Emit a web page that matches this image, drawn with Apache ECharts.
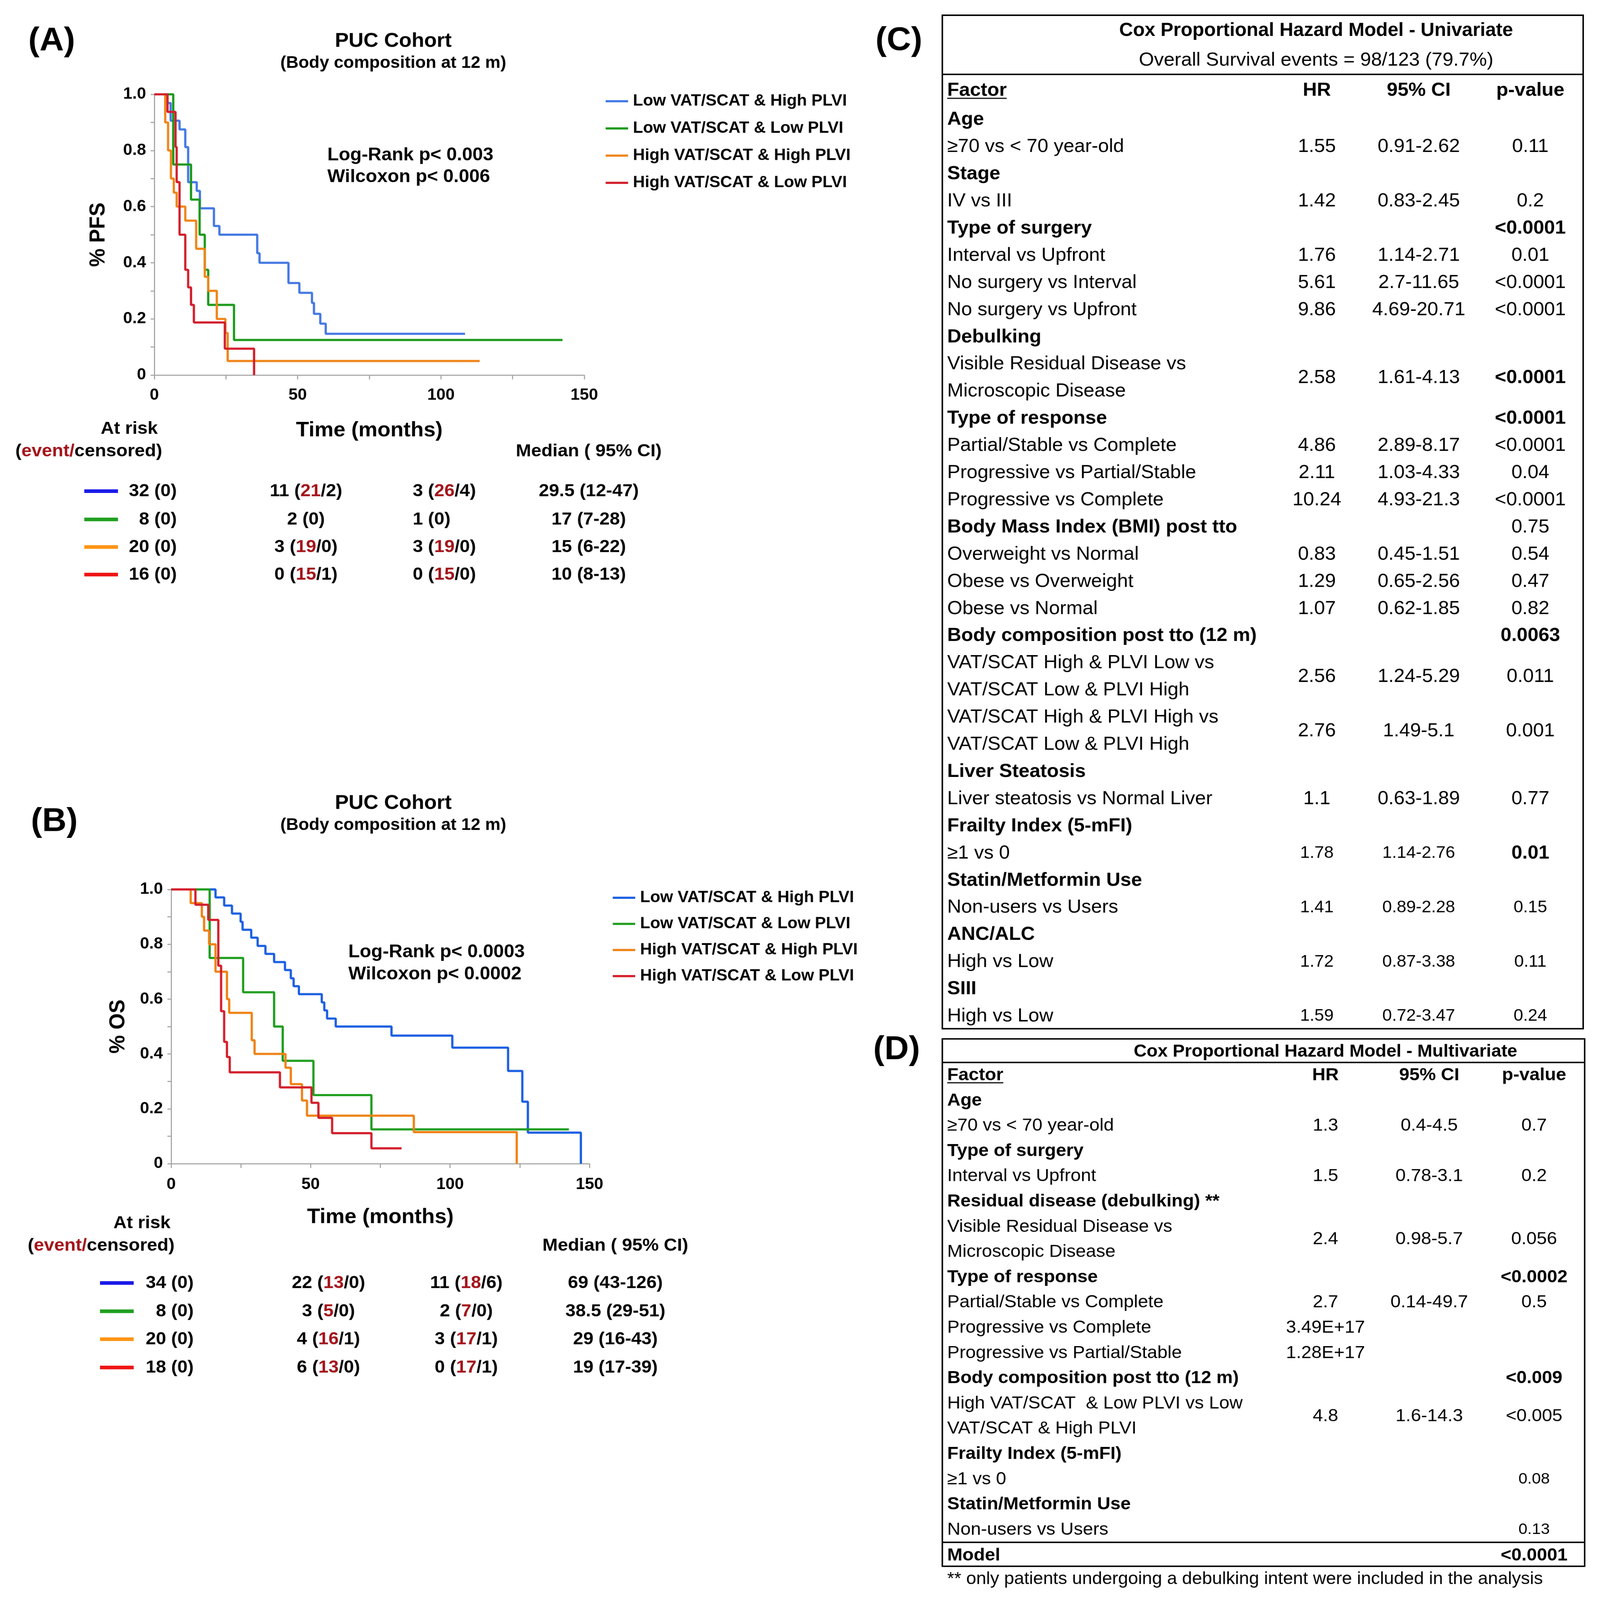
<!DOCTYPE html>
<html>
<head>
<meta charset="utf-8">
<script src="https://cdn.jsdelivr.net/npm/echarts@6/dist/echarts.min.js"></script>
<style>
  html, body { margin: 0; padding: 0; background: #fff; overflow: hidden; }
  #chart { width: 4272px; height: 4411px; transform-origin: 0 0; }
</style>
</head>
<body>
<div id="chart"></div>
<script>
// ---- Kaplan-Meier curves (time in months, survival fraction) ----
const groupNames = ['Low VAT/SCAT & High PLVI', 'Low VAT/SCAT & Low PLVI', 'High VAT/SCAT & High PLVI', 'High VAT/SCAT & Low PLVI'];

// (A) PFS
const pfsLowHighT = [0, 4.6, 5.7, 8.8, 10.8, 11.8, 14.8, 15.9, 20.8, 22.7, 35.9, 36.7, 46.8, 50.6, 55.0, 55.7, 57.9, 59.8, 108.4];
const pfsLowHighS = [1, 0.969, 0.906, 0.875, 0.812, 0.687, 0.656, 0.594, 0.531, 0.5, 0.434, 0.4, 0.328, 0.293, 0.257, 0.218, 0.183, 0.147, 0.147];
const pfsLowLowT = [0, 6.6, 12.8, 15.8, 17.6, 18.8, 27.8, 142.4];
const pfsLowLowS = [1, 0.75, 0.625, 0.5, 0.375, 0.25, 0.125, 0.125];
const pfsHighHighT = [0, 3.8, 4.8, 5.8, 6.8, 7.8, 10.8, 14.6, 17.6, 18.8, 21.8, 24.8, 25.6, 113.5];
const pfsHighHighS = [1, 0.9, 0.8, 0.7, 0.65, 0.6, 0.55, 0.45, 0.35, 0.3, 0.2, 0.15, 0.05, 0.05];
const pfsHighLowT = [0, 4.6, 7.4, 7.8, 8.8, 10.8, 11.8, 12.8, 13.8, 24.6, 34.8];
const pfsHighLowS = [1, 0.9375, 0.8125, 0.6875, 0.5, 0.375, 0.3125, 0.25, 0.1875, 0.094, 0];

// (B) OS
const osLowHighT = [0, 15.9, 19.0, 21.8, 24.9, 25.6, 28.7, 31.0, 33.8, 36.9, 40.8, 42.9, 43.9, 45.8, 54.0, 54.9, 55.9, 59.0, 79.0, 100.8, 120.8, 125.9, 127.9, 146.9];
const osLowHighS = [1, 0.971, 0.941, 0.912, 0.882, 0.853, 0.824, 0.794, 0.765, 0.735, 0.706, 0.676, 0.647, 0.618, 0.588, 0.559, 0.529, 0.5, 0.467, 0.423, 0.338, 0.226, 0.113, 0];
const osLowLowT = [0, 13.8, 25.8, 36.9, 40.0, 51.0, 71.8, 142.6];
const osLowLowS = [1, 0.75, 0.625, 0.5, 0.375, 0.25, 0.125, 0.125];
const osHighHighT = [0, 7.0, 11.0, 11.8, 13.6, 15.9, 20.0, 20.8, 28.9, 29.9, 41.0, 42.9, 46.9, 48.7, 87.0, 123.9];
const osHighHighS = [1, 0.95, 0.9, 0.85, 0.8, 0.7, 0.6, 0.55, 0.45, 0.4, 0.35, 0.29, 0.23, 0.175, 0.115, 0];
const osHighLowT = [0, 8.7, 13.3, 16.9, 17.9, 19.0, 20.0, 21.0, 39.0, 50.3, 52.8, 57.7, 71.8, 82.6];
const osHighLowS = [1, 0.944, 0.889, 0.722, 0.556, 0.444, 0.389, 0.333, 0.278, 0.222, 0.167, 0.111, 0.056, 0.056];

// ---- at-risk tables ----
const pfsRisk0 = ['32 (0)', '8 (0)', '20 (0)', '16 (0)'];
const pfsRisk50 = ['11 (21/2)', '2 (0)', '3 (19/0)', '0 (15/1)'];
const pfsRisk100 = ['3 (26/4)', '1 (0)', '3 (19/0)', '0 (15/0)'];
const pfsMedian = ['29.5 (12-47)', '17 (7-28)', '15 (6-22)', '10 (8-13)'];
const osRisk0 = ['34 (0)', '8 (0)', '20 (0)', '18 (0)'];
const osRisk50 = ['22 (13/0)', '3 (5/0)', '4 (16/1)', '6 (13/0)'];
const osRisk100 = ['11 (18/6)', '2 (7/0)', '3 (17/1)', '0 (17/1)'];
const osMedian = ['69 (43-126)', '38.5 (29-51)', '29 (16-43)', '19 (17-39)'];

// ---- (C) univariate Cox model ----
const univFactor = ['Age', '≥70 vs < 70 year-old', 'Stage', 'IV vs III', 'Type of surgery', 'Interval vs Upfront',
  'No surgery vs Interval', 'No surgery vs Upfront', 'Debulking', 'Visible Residual Disease vs\nMicroscopic Disease',
  'Type of response', 'Partial/Stable vs Complete', 'Progressive vs Partial/Stable', 'Progressive vs Complete',
  'Body Mass Index (BMI) post tto', 'Overweight vs Normal', 'Obese vs Overweight', 'Obese vs Normal',
  'Body composition post tto (12 m)', 'VAT/SCAT High & PLVI Low vs\nVAT/SCAT Low & PLVI High',
  'VAT/SCAT High & PLVI High vs\nVAT/SCAT Low & PLVI High', 'Liver Steatosis', 'Liver steatosis vs Normal Liver',
  'Frailty Index (5-mFI)', '≥1 vs 0', 'Statin/Metformin Use', 'Non-users vs Users', 'ANC/ALC', 'High vs Low', 'SIII', 'High vs Low'];
const univHR = ['', '1.55', '', '1.42', '', '1.76', '5.61', '9.86', '', '2.58', '', '4.86', '2.11', '10.24', '', '0.83', '1.29', '1.07',
  '', '2.56', '2.76', '', '1.1', '', '1.78', '', '1.41', '', '1.72', '', '1.59'];
const univCI = ['', '0.91-2.62', '', '0.83-2.45', '', '1.14-2.71', '2.7-11.65', '4.69-20.71', '', '1.61-4.13', '', '2.89-8.17',
  '1.03-4.33', '4.93-21.3', '', '0.45-1.51', '0.65-2.56', '0.62-1.85', '', '1.24-5.29', '1.49-5.1', '', '0.63-1.89', '',
  '1.14-2.76', '', '0.89-2.28', '', '0.87-3.38', '', '0.72-3.47'];
const univP = ['', '0.11', '', '0.2', '<0.0001', '0.01', '<0.0001', '<0.0001', '', '<0.0001', '<0.0001', '<0.0001', '0.04', '<0.0001',
  '0.75', '0.54', '0.47', '0.82', '0.0063', '0.011', '0.001', '', '0.77', '', '0.01', '', '0.15', '', '0.11', '', '0.24'];

// ---- (D) multivariate Cox model ----
const multiFactor = ['Age', '≥70 vs < 70 year-old', 'Type of surgery', 'Interval vs Upfront', 'Residual disease (debulking) **',
  'Visible Residual Disease vs\nMicroscopic Disease', 'Type of response', 'Partial/Stable vs Complete', 'Progressive vs Complete',
  'Progressive vs Partial/Stable', 'Body composition post tto (12 m)', 'High VAT/SCAT  & Low PLVI vs Low\nVAT/SCAT & High PLVI',
  'Frailty Index (5-mFI)', '≥1 vs 0', 'Statin/Metformin Use', 'Non-users vs Users'];
const multiHR = ['', '1.3', '', '1.5', '', '2.4', '', '2.7', '3.49E+17', '1.28E+17', '', '4.8', '', '', '', ''];
const multiCI = ['', '0.4-4.5', '', '0.78-3.1', '', '0.98-5.7', '', '0.14-49.7', '', '', '', '1.6-14.3', '', '', '', ''];
const multiP = ['', '0.7', '', '0.2', '', '0.056', '<0.0002', '0.5', '', '', '<0.009', '<0.005', '', '0.08', '', '0.13'];
const multiModelP = '<0.0001';

// ---- styling ----
const FONT = '"Liberation Sans", Arial, sans-serif';
const colorsA = ['#4479e4', '#1b9a1b', '#f08517', '#d21f2c'];
const colorsB = ['#1c5fe2', '#1f9e1f', '#ef8214', '#d41f2c'];
const riskColors = ['#1a1ae8', '#1fa01f', '#ff9514', '#ee1414'];
const eventRed = '#a3141a';
const axisGray = '#a6a6a6';

// the window may be smaller than the figure: scale the whole figure to fill it
const W = 4272, H = 4411;
const el = document.getElementById('chart');
el.style.transform = 'scale(' + (window.innerWidth / W) + ',' + (window.innerHeight / H) + ')';

const measureCtx = document.createElement('canvas').getContext('2d');
function textWidth(str, size, bold) {
  measureCtx.font = (bold ? 'bold ' : '') + size + 'px ' + FONT;
  return measureCtx.measureText(str).width;
}

function txt(x, y, str, size, opt) {
  opt = opt || {};
  const style = {
    text: str, fontFamily: FONT, fontSize: size, fontWeight: opt.bold ? 'bold' : 'normal',
    fill: opt.color || '#000', align: opt.align || 'left', verticalAlign: 'middle'
  };
  if (opt.rich) style.rich = opt.rich;
  return { type: 'text', x: x, y: y, silent: true, style: style };
}

function line(x1, y1, x2, y2, color, width) {
  return { type: 'line', silent: true, shape: { x1, y1, x2, y2 }, style: { stroke: color, lineWidth: width } };
}

function redEvents(s) {
  return s.replace(/\((\d+)\//, '({ev|$1}/');
}
function evRich(size) {
  return { ev: { fill: eventRed, fontFamily: FONT, fontSize: size, fontWeight: 'bold' } };
}

function kmSeries(name, T, S, color, idx) {
  return {
    type: 'line', name: name, step: 'end', xAxisIndex: idx, yAxisIndex: idx,
    data: T.map((t, i) => [t, S[i]]), showSymbol: false, symbol: 'none',
    lineStyle: { color: color, width: 6 }, itemStyle: { color: color },
    animation: false, silent: true
  };
}

function xAxisCfg(idx, gap, margin) {
  return {
    gridIndex: idx, type: 'value', min: 0, max: 150, interval: 25,
    name: 'Time (months)', nameLocation: 'middle', nameGap: gap,
    nameTextStyle: { fontFamily: FONT, fontSize: 57, fontWeight: 'bold', color: '#000' },
    axisLine: { lineStyle: { color: axisGray, width: 3 } },
    axisTick: { length: 12, lineStyle: { color: axisGray, width: 3 } },
    axisLabel: { formatter: v => (v % 50 === 0 ? String(v) : ''), fontFamily: FONT, fontSize: 44, fontWeight: 'bold', color: '#000', margin: margin },
    splitLine: { show: false }
  };
}
function yAxisCfg(idx, name, gap) {
  return {
    gridIndex: idx, type: 'value', min: 0, max: 1, interval: 0.1,
    name: name, nameLocation: 'middle', nameGap: gap, nameRotate: 90,
    nameTextStyle: { fontFamily: FONT, fontSize: 57, fontWeight: 'bold', color: '#000' },
    axisLine: { show: true, lineStyle: { color: axisGray, width: 3 } },
    axisTick: { show: true, length: 10, lineStyle: { color: axisGray, width: 3 } },
    axisLabel: {
      formatter: v => { const r = Math.round(v * 10); if (r % 2) return ''; return r === 0 ? '0' : (r / 10).toFixed(1); },
      fontFamily: FONT, fontSize: 44, fontWeight: 'bold', color: '#000', margin: 22
    },
    splitLine: { show: false }
  };
}
function legendCfg(left, top, gap, colors) {
  return {
    orient: 'vertical', left: left, top: top, itemGap: gap, itemWidth: 60, itemHeight: 6, icon: 'rect',
    selectedMode: false,
    textStyle: { fontFamily: FONT, fontSize: 44, fontWeight: 'bold', color: '#000', lineHeight: 50, padding: [0, 0, 0, 8] },
    data: groupNames.map((n, i) => ({ name: n, itemStyle: { color: colors[i] } }))
  };
}

// ---- graphic: titles, at-risk tables, Cox tables ----
const g = [];

function panelHeader(cx, y, letterX, letterY, letter) {
  g.push(txt(letterX, letterY, letter, 90, { bold: true, align: 'center' }));
  g.push(txt(cx, y, 'PUC Cohort', 55, { bold: true, align: 'center' }));
  g.push(txt(cx, y + 60, '(Body composition at 12 m)', 46, { bold: true, align: 'center' }));
}
panelHeader(1050, 114, 138, 114, '(A)');
panelHeader(1050, 2215, 145, 2266, '(B)');

g.push(txt(874, 428, 'Log-Rank p< 0.003', 50, { bold: true }));
g.push(txt(874, 488, 'Wilcoxon p< 0.006', 50, { bold: true }));
g.push(txt(930, 2625, 'Log-Rank p< 0.0003', 50, { bold: true }));
g.push(txt(930, 2686, 'Wilcoxon p< 0.0002', 50, { bold: true }));

function riskTable(cfg) {
  const S = 49;
  g.push(txt(cfg.atRiskX, cfg.headY, 'At risk', S, { bold: true, align: 'center' }));
  g.push(txt(cfg.evX, cfg.headY + 62, '({ev|event/}censored)', S, { bold: true, align: 'center', rich: evRich(S) }));
  g.push(txt(cfg.medX, cfg.headY + 62, 'Median ( 95% CI)', S, { bold: true, align: 'center' }));
  cfg.rowsY.forEach((y, i) => {
    g.push(line(cfg.symX1, y, cfg.symX2, y, riskColors[i], 10));
    g.push(txt(cfg.c0, y, cfg.r0[i], S, { bold: true, align: 'right' }));
    g.push(txt(cfg.c50, y, redEvents(cfg.r50[i]), S, { bold: true, align: 'center', rich: evRich(S) }));
    g.push(txt(cfg.c100, y, redEvents(cfg.r100[i]), S, { bold: true, align: cfg.c100Align, rich: evRich(S) }));
    g.push(txt(cfg.medX, y, cfg.med[i], S, { bold: true, align: 'center' }));
  });
}
riskTable({ atRiskX: 345, evX: 237, medX: 1572, headY: 1182, rowsY: [1354, 1432, 1508, 1584], symX1: 225, symX2: 315,
  c0: 472, c50: 817, c100: 1102, c100Align: 'left', r0: pfsRisk0, r50: pfsRisk50, r100: pfsRisk100, med: pfsMedian });
riskTable({ atRiskX: 379, evX: 270, medX: 1643, headY: 3372, rowsY: [3537, 3615, 3692, 3770], symX1: 267, symX2: 357,
  c0: 517, c50: 877, c100: 1245, c100Align: 'center', r0: osRisk0, r50: osRisk50, r100: osRisk100, med: osMedian });

function coxTable(cfg) {
  g.push({ type: 'rect', silent: true, shape: { x: cfg.box[0], y: cfg.box[1], width: cfg.box[2], height: cfg.box[3] },
    style: { fill: 'none', stroke: '#000', lineWidth: 4 } });
  cfg.seps.forEach(y => g.push(line(cfg.box[0], y, cfg.box[0] + cfg.box[2], y, '#000', 4)));
  const HS = cfg.headSize;
  g.push(txt(cfg.xF, cfg.headY, 'Factor', HS, { bold: true }));
  g.push(line(cfg.xF, cfg.headY + 21, cfg.xF + textWidth('Factor', HS, true), cfg.headY + 21, '#000', 3));
  g.push(txt(cfg.xHR, cfg.headY, 'HR', HS, { bold: true, align: 'center' }));
  g.push(txt(cfg.xCI, cfg.headY, '95% CI', HS, { bold: true, align: 'center' }));
  g.push(txt(cfg.xP, cfg.headY, 'p-value', HS, { bold: true, align: 'center' }));
  let ln = 0;
  cfg.factor.forEach((f, i) => {
    const parts = f.split('\n');
    const y0 = cfg.top + ln * cfg.pitch;
    parts.forEach((p, k) => g.push(txt(cfg.xF, y0 + k * cfg.pitch, p, cfg.size, { bold: cfg.boldLabel.has(i) })));
    const yc = y0 + (parts.length - 1) * cfg.pitch / 2;
    const vs = cfg.smallRows.has(i) ? cfg.smallSize : cfg.size;
    if (cfg.hr[i]) g.push(txt(cfg.xHR, yc, cfg.hr[i], vs, { align: 'center' }));
    if (cfg.ci[i]) g.push(txt(cfg.xCI, yc, cfg.ci[i], vs, { align: 'center' }));
    if (cfg.p[i]) g.push(txt(cfg.xP, yc, cfg.p[i], cfg.boldP.has(i) ? cfg.size : vs, { align: 'center', bold: cfg.boldP.has(i) }));
    ln += parts.length;
  });
}

g.push(txt(2400, 113, '(C)', 90, { bold: true, align: 'center' }));
g.push(txt(3514, 85, 'Cox Proportional Hazard Model - Univariate', 51, { bold: true, align: 'center' }));
g.push(txt(3514, 167, 'Overall Survival events = 98/123 (79.7%)', 52, { align: 'center' }));
coxTable({
  box: [2516, 42, 1711, 2794], seps: [205], headY: 250, headSize: 52,
  xF: 2529, xHR: 3516, xCI: 3788, xP: 4086, top: 330, pitch: 74.9, size: 52, smallSize: 46,
  factor: univFactor, hr: univHR, ci: univCI, p: univP,
  boldLabel: new Set([0, 2, 4, 8, 10, 14, 18, 21, 23, 25, 27, 29]),
  boldP: new Set([4, 9, 10, 18, 24]),
  smallRows: new Set([24, 26, 28, 30])
});

g.push(txt(2394, 2895, '(D)', 90, { bold: true, align: 'center' }));
g.push(txt(3539, 2900, 'Cox Proportional Hazard Model - Multivariate', 48, { bold: true, align: 'center' }));
coxTable({
  box: [2516, 2864, 1715, 1454], seps: [2929, 4252], headY: 2964, headSize: 49,
  xF: 2529, xHR: 3539, xCI: 3816, xP: 4096, top: 3034, pitch: 69.6, size: 49, smallSize: 43,
  factor: multiFactor, hr: multiHR, ci: multiCI, p: multiP,
  boldLabel: new Set([0, 2, 4, 6, 10, 12, 14]),
  boldP: new Set([6, 10]),
  smallRows: new Set([13, 15])
});
g.push(txt(2529, 4288, 'Model', 49, { bold: true }));
g.push(txt(4096, 4288, multiModelP, 49, { bold: true, align: 'center' }));
g.push(txt(2529, 4354, '** only patients undergoing a debulking intent were included in the analysis', 48));

// ---- chart ----
const chart = echarts.init(el, null, { renderer: 'canvas', width: W, height: H });
const pfsT = [pfsLowHighT, pfsLowLowT, pfsHighHighT, pfsHighLowT];
const pfsS = [pfsLowHighS, pfsLowLowS, pfsHighHighS, pfsHighLowS];
const osT = [osLowHighT, osLowLowT, osHighHighT, osHighLowT];
const osS = [osLowHighS, osLowLowS, osHighHighS, osHighLowS];

const option = {
  backgroundColor: '#fff',
  animation: false,
  grid: [
    { left: 412, top: 260, width: 1148, height: 774, containLabel: false, outerBoundsMode: 'none' },
    { left: 457, top: 2452, width: 1117, height: 756, containLabel: false, outerBoundsMode: 'none' }
  ],
  xAxis: [xAxisCfg(0, 125, 34), xAxisCfg(1, 120, 36)],
  yAxis: [yAxisCfg(0, '% PFS', 120), yAxisCfg(1, '% OS', 112)],
  legend: [legendCfg(1612, 249, 25, colorsA), legendCfg(1631, 2445, 22, colorsB)],
  series: [
    ...groupNames.map((n, i) => kmSeries(n, pfsT[i], pfsS[i], colorsA[i], 0)),
    ...groupNames.map((n, i) => kmSeries(n, osT[i], osS[i], colorsB[i], 1))
  ],
  graphic: g
};
chart.setOption(option);
</script>
</body>
</html>
